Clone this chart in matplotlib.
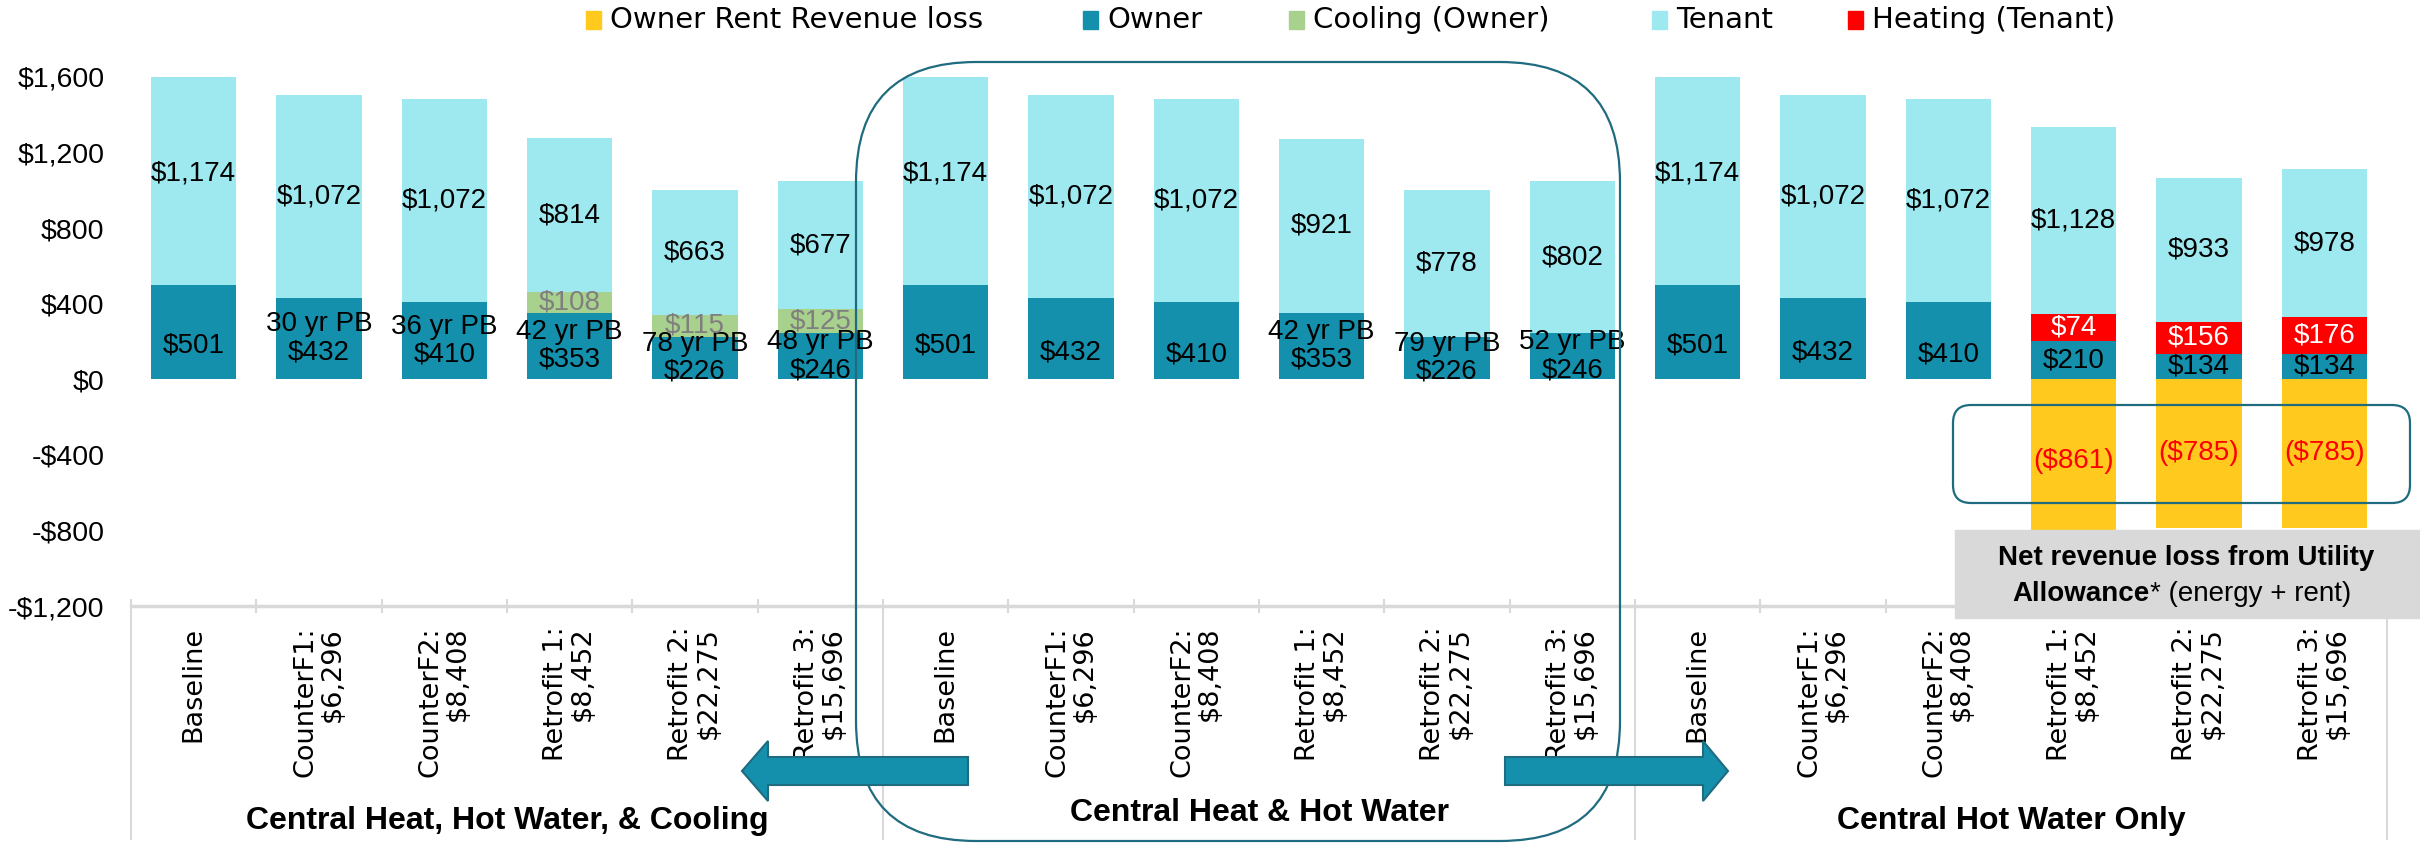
import matplotlib
matplotlib.use('Agg')
import matplotlib.pyplot as plt
import matplotlib.patches as mpatches
import matplotlib.transforms as mtransforms
import numpy as np

# ── Data ──────────────────────────────────────────────────────────────────────
scenarios = ['Baseline', 'CounterF1:\n$6,296', 'CounterF2:\n$8,408',
             'Retrofit 1:\n$8,452', 'Retrofit 2:\n$22,275', 'Retrofit 3:\n$15,696']
groups = ['Central Heat, Hot Water, & Cooling', 'Central Heat & Hot Water',
          'Central Hot Water Only']
categories = scenarios * 3

# bar heights as drawn
rent_loss = [0, 0, 0, 0, 0, 0, 0, 0, 0, 0, 0, 0, 0, 0, 0, -861, -785, -785]
owner     = [501, 432, 410, 353, 226, 246, 501, 432, 410, 353, 226, 246,
             501, 432, 410, 202, 136, 132]
cooling   = [0, 0, 0, 108, 115, 125, 0, 0, 0, 0, 0, 0, 0, 0, 0, 0, 0, 0]
heating   = [0, 0, 0, 0, 0, 0, 0, 0, 0, 0, 0, 0, 0, 0, 0, 146, 167, 197]
tenant    = [1174, 1072, 1072, 814, 663, 677, 1174, 1072, 1072, 921, 778, 802,
             1174, 1072, 1072, 989, 763, 783]

# printed data labels
owner_lbl   = [501, 432, 410, 353, 226, 246, 501, 432, 410, 353, 226, 246,
               501, 432, 410, 210, 134, 134]
tenant_lbl  = [1174, 1072, 1072, 814, 663, 677, 1174, 1072, 1072, 921, 778, 802,
               1174, 1072, 1072, 1128, 933, 978]
heating_lbl = [0] * 15 + [74, 156, 176]
payback     = ['', '30 yr PB', '36 yr PB', '42 yr PB', '78 yr PB', '48 yr PB',
               '', '', '', '42 yr PB', '79 yr PB', '52 yr PB',
               '', '', '', None, None, None]

legend_names = ['Owner Rent Revenue loss', 'Owner', 'Cooling (Owner)',
                'Tenant', 'Heating (Tenant)']

C_LOSS, C_OWNER, C_COOL, C_TEN, C_HEAT = '#FFC91E', '#1490AD', '#A9D18E', '#9EE8F0', '#FF0000'
C_LINE = '#1F6B7F'
C_GRID = '#D9D9D9'
SANS = 'Liberation Sans'
GOTH = 'DejaVu Sans'

fig = plt.figure(figsize=(24.2, 8.47), dpi=100)
ax = fig.add_axes([131 / 2420, 1 - 606 / 847, (2387 - 131) / 2420, (606 - 77) / 847])


def px(xp, yp):
    # reference pixel -> figure inches
    return xp / 100, (847 - yp) / 100


# ── Bars ──────────────────────────────────────────────────────────────────────
x = np.arange(len(categories))
w = 0.68
owner_a = np.array(owner)
mid = owner_a + np.array(cooling) + np.array(heating)

ax.bar(x, rent_loss, w, color=C_LOSS, lw=0)
ax.bar(x, owner, w, color=C_OWNER, lw=0)
ax.bar(x, cooling, w, bottom=owner, color=C_COOL, lw=0)
ax.bar(x, heating, w, bottom=owner, color=C_HEAT, lw=0)
ax.bar(x, tenant, w, bottom=mid, color=C_TEN, lw=0)

lbl_kw = dict(ha='center', va='center', fontsize=20, family=SANS, zorder=4)
for i in x:
    pb = payback[i]
    txt = f'${owner_lbl[i]}' if pb is None else f'{pb}\n${owner_lbl[i]}'
    ax.text(i, owner[i] / 2, txt, linespacing=1.1, **lbl_kw)
    ax.text(i, mid[i] + tenant[i] / 2, f'${tenant_lbl[i]:,}', **lbl_kw)
    if cooling[i]:
        ax.text(i, owner[i] + cooling[i] / 2, f'${cooling[i]}', color='#7F7F7F', **lbl_kw)
    if heating[i]:
        ax.text(i, owner[i] + heating[i] / 2, f'${heating_lbl[i]}', color='white', **lbl_kw)
    if rent_loss[i]:
        ax.text(i, rent_loss[i] / 2, f'(${-rent_loss[i]})', color='red', **lbl_kw)

# ── Axes styling ──────────────────────────────────────────────────────────────
ax.set_xlim(-0.5, len(categories) - 0.5)
ax.set_ylim(-1200, 1600)
yt = np.arange(-1200, 1601, 400)
ax.set_yticks(yt)
ax.set_yticklabels([f'-${-v:,}' if v < 0 else f'${v:,}' for v in yt],
                   family=SANS, fontsize=20.5)
ax.tick_params(axis='y', length=0, pad=19)

ax.set_xticks(x)
ax.set_xticklabels(categories, rotation=90, family=GOTH, fontsize=19.5,
                   linespacing=1.05, multialignment='right')
ax.tick_params(axis='x', which='major', length=0, pad=15)
ax.set_xticks(np.arange(-0.5, len(categories), 1), minor=True)
ax.tick_params(axis='x', which='minor', direction='inout', length=10, width=1.5, color=C_GRID)

for s in ['top', 'right', 'left']:
    ax.spines[s].set_visible(False)
ax.spines['bottom'].set_color(C_GRID)
ax.spines['bottom'].set_linewidth(2.5)

# group separators and group names below the tick labels
trans = mtransforms.blended_transform_factory(ax.transData, ax.transAxes)
for xb in [-0.5, 5.5, 11.5, 17.5]:
    ax.plot([xb, xb], [0, -0.44], transform=trans, clip_on=False, color=C_GRID, lw=1.5)
for g, name in enumerate(groups):
    ax.text(g * 6 + 2.5, -0.391 if g == 1 else -0.406, name, transform=trans,
            ha='center', va='center', fontsize=23, fontweight='bold', family=SANS)

# ── Legend (drawn by hand, Excel-style spacing) ──────────────────────────────
leg_x = [586, 1083, 1289, 1652, 1848]
for name, col, lx in zip(legend_names, [C_LOSS, C_OWNER, C_COOL, C_TEN, C_HEAT], leg_x):
    x0, y0 = px(lx, 29)
    fig.add_artist(mpatches.Rectangle((x0, y0), 0.15, 0.18, color=col,
                                      transform=fig.dpi_scale_trans))
    tx, ty = px(lx + 24, 20)
    fig.text(tx, ty, name, transform=fig.dpi_scale_trans, ha='left', va='center',
             fontsize=21, family=GOTH)

# ── Callouts ─────────────────────────────────────────────────────────────────
x0, y0 = px(856, 841)
fig.add_artist(mpatches.FancyBboxPatch((x0, y0), 7.64, 7.79,
                                       boxstyle='round,pad=0,rounding_size=1.2',
                                       fill=False, ec=C_LINE, lw=1.6,
                                       transform=fig.dpi_scale_trans, zorder=5))
x0, y0 = px(1953, 503)
fig.add_artist(mpatches.FancyBboxPatch((x0, y0), 4.57, 0.98,
                                       boxstyle='round,pad=0,rounding_size=0.18',
                                       fill=False, ec=C_LINE, lw=1.6,
                                       transform=fig.dpi_scale_trans, zorder=5))
x0, y0 = px(1955, 618)
fig.add_artist(mpatches.Rectangle((x0, y0), 4.65, 0.88, color=C_GRID,
                                  transform=fig.dpi_scale_trans, zorder=6))
tx, ty = px(2186, 558)
fig.text(tx, ty, 'Net revenue loss from Utility', transform=fig.dpi_scale_trans,
         ha='center', va='center', fontsize=20, fontweight='bold', family=SANS, zorder=7)
tx, ty = px(2150, 594)
fig.text(tx, ty, 'Allowance', transform=fig.dpi_scale_trans, ha='right', va='center',
         fontsize=20, fontweight='bold', family=SANS, zorder=7)
fig.text(tx, ty, '* (energy + rent)', transform=fig.dpi_scale_trans, ha='left',
         va='center', fontsize=20, family=SANS, zorder=7)

# block arrows pointing out of the middle group
def block_arrow(tail, base, tip, yc, shaft=14, head=30):
    pts = [(tail, yc - shaft), (base, yc - shaft), (base, yc - head), (tip, yc),
           (base, yc + head), (base, yc + shaft), (tail, yc + shaft)]
    fig.add_artist(mpatches.Polygon([px(a, b) for a, b in pts], closed=True,
                                    fc=C_OWNER, ec=C_LINE, lw=1.5,
                                    transform=fig.dpi_scale_trans, zorder=6))

block_arrow(968, 768, 742, 771)
block_arrow(1505, 1703, 1728, 771)

fig.savefig('out.png', dpi=100)
